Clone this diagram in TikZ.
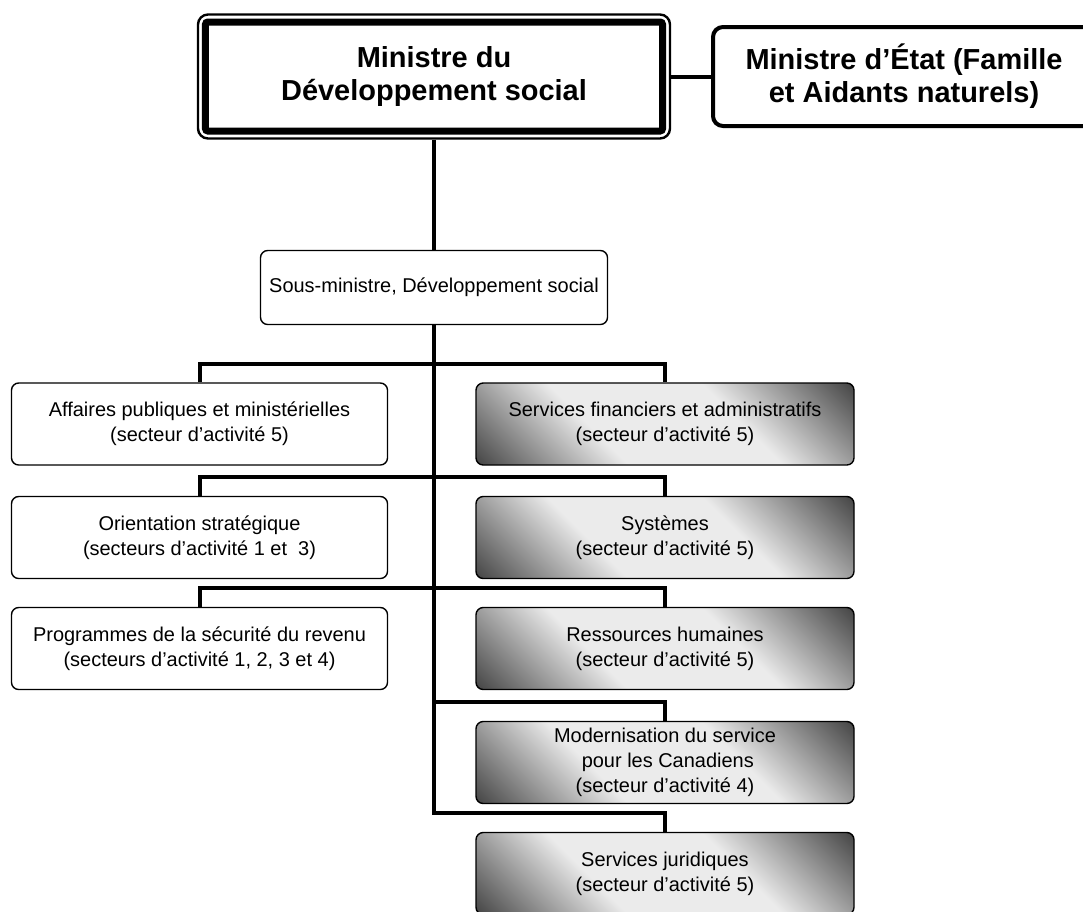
\documentclass[tikz,border=0pt]{standalone}
\usepackage{fontspec}
\setmainfont{Liberation Sans}
\usetikzlibrary{fit}
\definecolor{sdsDark}{HTML}{404040}
\definecolor{sdsLight}{HTML}{EBEBEB}
\pgfdeclarehorizontalshading{sdsShade}{100bp}{color(0bp)=(sdsDark); color(14bp)=(sdsDark);
  color(38bp)=(sdsLight); color(62bp)=(sdsLight); color(86bp)=(sdsDark); color(100bp)=(sdsDark)}
\newcommand{\unitfont}{\fontsize{14.2pt}{17.8pt}\selectfont}
\newcommand{\headfont}{\fontsize{20.6pt}{23.5pt}\selectfont\bfseries}
\tikzset{
  box/.style={draw=black,line width=0.35mm,rounded corners=1.8mm,fill=white,inner sep=2pt,
              align=center,font=\unitfont,minimum width=94mm,minimum height=20.5mm},
  svc/.style={box,shade,shading=sdsShade,shading angle=45,minimum width=94.5mm},
  chief/.style={draw=black,line width=1.75mm,rounded corners=0.6mm,fill=white,align=center,
              font=\headfont,minimum width=114.25mm,minimum height=27.25mm},
  state/.style={draw=black,line width=1mm,rounded corners=2.5mm,fill=white,align=center,
              font=\headfont,minimum width=95.5mm,minimum height=24.75mm},
  conn/.style={draw=black,line width=1mm},
}

\begin{document}
\begin{tikzpicture}[x=0.25mm,y=-0.25mm]
    \useasboundingbox (0,0) rectangle (1083,911);
    \clip (0,0) rectangle (1083,911);
    % --- ministers
    \node[chief] at (434,76.5) (mds) {Ministre du\\Développement social};
    \node[fit=(mds),draw,line width=0.6mm,inner sep=1mm,rounded corners=2.5mm] (mdsframe) {};
    \node[state] at (904,76.5) (med) {Ministre d’État (Famille\\et Aidants naturels)};
    % --- deputy
    \node[box,minimum width=86.75mm,minimum height=18.5mm] at (434,287.5) (smin)
      {Sous-ministre, Développement social};
    % --- left column
    \node[box] at (199.5,424)   (apm) {Affaires publiques et ministérielles\\(secteur d’activité 5)};
    \node[box] at (199.5,537.5) (ori) {Orientation stratégique\\(secteurs d’activité 1 et~~3)};
    \node[box] at (199.5,648.5) (prg) {Programmes de la sécurité du revenu\\(secteurs d’activité 1, 2, 3 et 4)};
    % --- right column
    \node[svc] at (665,424)   (fin) {Services financiers et administratifs\\(secteur d’activité 5)};
    \node[svc] at (665,537.5) (sys) {Systèmes\\(secteur d’activité 5)};
    \node[svc] at (665,648.5) (rhu) {Ressources humaines\\(secteur d’activité 5)};
    \node[svc] at (665,762.5) (mod) {Modernisation du service\\~pour les Canadiens\\(secteur d’activité 4)};
    \node[svc] at (665,873.5) (jur) {Services juridiques\\(secteur d’activité 5)};

    \draw[conn] (mdsframe) -- (med);
    \draw[conn] (mdsframe) -- (smin);
    \path (jur.north) ++(0,-19) coordinate (b5);
    \draw[conn] (smin.south) |- (b5) -- (jur.north);   % trunk ends on the last branch
    \path (apm.north) ++(0,-18) coordinate (b1);
    \draw[conn] (apm.north) -- (b1) -| (fin.north);
    \path (ori.north) ++(0,-19) coordinate (b2);
    \draw[conn] (ori.north) -- (b2) -| (sys.north);
    \path (prg.north) ++(0,-19) coordinate (b3);
    \draw[conn] (prg.north) -- (b3) -| (rhu.north);
    \path (mod.north) ++(0,-19) coordinate (b4);
    \draw[conn] (mod.north) -- (b4) -- (b4 -| smin.south);
\end{tikzpicture}
\end{document}
